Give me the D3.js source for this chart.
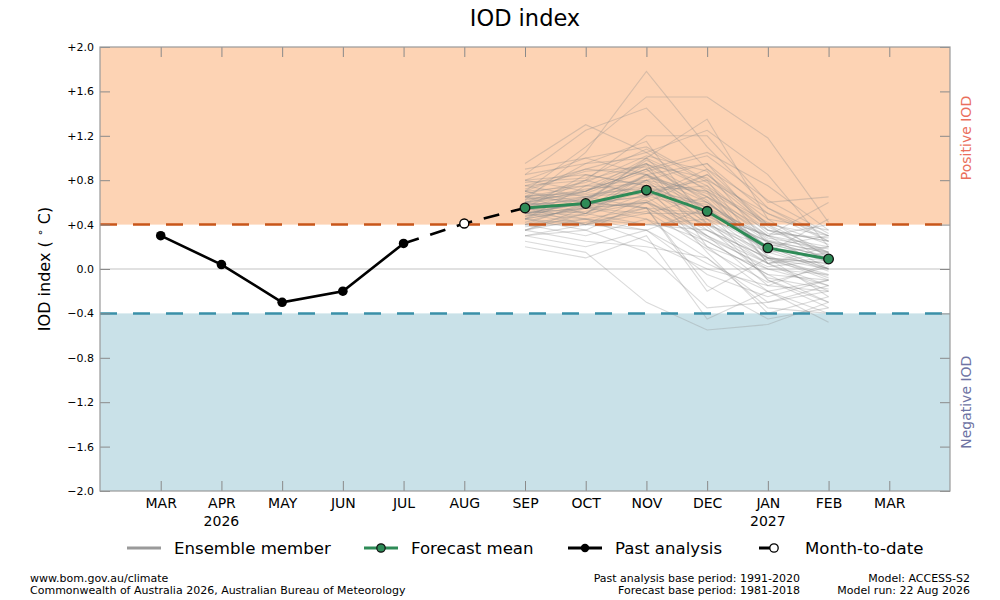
<!DOCTYPE html>
<html>
<head>
<meta charset="utf-8">
<script src="https://cdn.jsdelivr.net/npm/d3@7"></script>
<style>
  body { margin: 0; background: #fff; }
  svg { font-family: "DejaVu Sans", sans-serif; }
</style>
</head>
<body>
<svg id="chart" width="1000" height="600"></svg>
<script>
// month labels along the x axis (index 0 = MAR 2026)
const months = ['MAR', 'APR', 'MAY', 'JUN', 'JUL', 'AUG', 'SEP', 'OCT', 'NOV', 'DEC', 'JAN', 'FEB', 'MAR'];
const yearLabels = [{ idx: 1, text: '2026' }, { idx: 10, text: '2027' }];
const yTicks = [2.0, 1.6, 1.2, 0.8, 0.4, 0.0, -0.4, -0.8, -1.2, -1.6, -2.0];
const threshold = 0.4;

// observed monthly values MAR..JUL
const pastIdx = [0, 1, 2, 3, 4];
const pastVals = [0.30, 0.04, -0.30, -0.20, 0.23];

// month-to-date JUL -> AUG -> SEP
const mtdIdx = [4, 5, 6];
const mtdVals = [0.23, 0.41, 0.55];

// forecast mean SEP..FEB
const fcIdx = [6, 7, 8, 9, 10, 11];
const fcVals = [0.55, 0.59, 0.71, 0.52, 0.19, 0.09];

// ensemble members SEP..FEB
const ensemble = [
  [0.62, 1.05, 1.78, 1.10, 0.55, 0.30],
  [0.70, 1.10, 1.55, 1.55, 1.18, 0.42],
  [0.85, 1.25, 1.45, 0.90, 0.40, 0.15],
  [0.95, 1.30, 1.05, 1.25, 0.85, 0.20],
  [0.55, 0.80, 1.20, 1.20, 0.60, 0.65],
  [0.40, 0.60, 1.00, 1.35, 0.45, 0.10],
  [0.90, 1.00, 1.10, 0.80, 0.10, -0.10],
  [0.75, 0.90, 1.05, 0.70, 0.30, 0.00],
  [0.65, 0.95, 1.15, 0.40, 0.05, -0.20],
  [0.60, 0.70, 0.90, 1.05, 0.75, 0.35],
  [0.50, 0.55, 0.80, 0.95, 0.35, 0.25],
  [0.45, 0.75, 0.95, 0.60, 0.20, 0.10],
  [0.35, 0.50, 0.85, 0.55, -0.10, -0.30],
  [0.30, 0.35, 0.60, 0.20, -0.20, -0.40],
  [0.25, 0.15, -0.30, -0.55, -0.50, -0.30],
  [0.20, 0.10, 0.30, -0.45, -0.20, -0.48],
  [0.55, 0.45, 0.55, -0.20, 0.10, 0.05],
  [0.60, 0.65, 0.70, 0.30, 0.00, -0.15],
  [0.70, 0.75, 0.80, 0.55, 0.15, 0.20],
  [0.80, 0.85, 0.75, 0.45, 0.25, 0.10],
  [0.50, 0.60, 0.65, 0.85, 0.40, 0.30],
  [0.45, 0.40, 0.50, 0.50, 0.30, 0.40],
  [0.40, 0.30, 0.45, 0.25, -0.05, -0.10],
  [0.35, 0.25, 0.20, 0.10, -0.30, -0.20],
  [0.65, 0.70, 1.00, 0.75, 0.05, 0.15],
  [0.75, 0.80, 0.95, 0.65, 0.35, 0.25],
  [0.55, 0.65, 0.75, 0.15, -0.40, -0.25],
  [0.50, 0.55, 0.60, 0.40, 0.20, 0.00],
  [0.60, 0.50, 0.40, 0.35, 0.10, -0.05],
  [0.45, 0.55, 0.70, 0.80, 0.50, 0.30],
  [0.85, 0.95, 1.00, 0.50, 0.10, 0.05],
  [0.70, 0.60, 0.85, 0.60, 0.25, 0.15],
  [0.55, 0.70, 0.90, 0.45, -0.10, -0.35],
  [0.40, 0.45, 0.35, -0.05, -0.25, -0.10],
  [0.30, 0.40, 0.55, 0.30, 0.05, 0.10],
  [0.65, 0.60, 0.55, 0.50, 0.30, 0.20],
  [0.50, 0.45, 0.25, 0.00, -0.15, -0.20],
  [0.60, 0.80, 0.65, 0.90, 0.55, 0.25],
  [0.75, 0.65, 0.80, 0.70, 0.40, 0.05],
  [0.35, 0.55, 0.45, 0.10, -0.35, -0.40],
  [0.55, 0.50, 0.75, 0.55, 0.20, 0.30],
  [0.45, 0.35, 0.15, -0.35, -0.30, -0.15],
  [0.70, 0.90, 0.85, 0.40, 0.15, 0.00],
  [0.60, 0.55, 0.50, 0.65, 0.15, 0.45],
  [0.80, 0.70, 0.95, 0.20, 0.00, -0.05],
  [0.50, 0.60, 0.70, 0.75, 0.35, 0.15],
  [0.40, 0.50, 0.60, 0.35, 0.05, 0.20],
  [0.65, 0.75, 0.70, 0.60, 0.20, 0.00],
  [0.55, 0.40, 0.65, 0.30, -0.15, 0.05],
  [0.35, 0.45, 0.40, 0.45, 0.10, -0.25],
  [0.70, 0.55, 0.60, 0.85, 0.45, 0.35],
  [0.60, 0.70, 0.90, 0.50, 0.25, 0.10],
  [0.45, 0.65, 0.55, 0.25, -0.05, -0.30],
  [0.50, 0.40, 0.35, 0.55, 0.30, 0.15],
  [0.80, 1.00, 0.85, 0.95, 0.50, 0.25],
  [0.30, 0.20, 0.35, 0.05, -0.20, -0.10],
  [0.65, 0.50, 0.80, 0.35, 0.10, 0.00],
  [0.55, 0.85, 0.75, 0.70, 0.05, -0.15],
  [0.50, 0.60, 0.55, -0.15, -0.45, -0.35],
  [0.45, 0.55, 0.85, 0.65, 0.30, 0.60],
  [0.68, 0.78, 1.02, 0.88, 0.22, 0.12],
  [0.58, 0.62, 0.98, 0.72, 0.42, 0.22],
  [0.72, 0.88, 0.92, 0.62, 0.12, -0.08],
  [0.48, 0.52, 0.62, 0.28, 0.02, 0.08],
  [0.62, 0.72, 0.78, 0.48, 0.18, -0.02],
  [0.52, 0.48, 0.68, 0.58, 0.28, 0.18],
  [0.78, 0.82, 1.08, 0.78, 0.32, 0.28],
  [0.42, 0.58, 0.72, 0.38, -0.08, -0.18],
  [0.66, 0.68, 0.88, 1.02, 0.62, 0.32],
  [0.38, 0.42, 0.52, 0.18, -0.12, 0.02],
  [0.57, 0.63, 0.83, 0.68, 0.26, 0.14],
  [0.63, 0.67, 0.73, 0.42, 0.08, -0.06],
  [0.53, 0.58, 0.66, 0.52, 0.24, 0.06],
  [0.47, 0.62, 0.94, 0.82, 0.38, 0.12]
];

const svg = d3.select('#chart');
const m = { left: 100, right: 950, top: 47, bottom: 491 };

const x = d3.scaleLinear().domain([-1, 13]).range([m.left, m.right]);
const y = d3.scaleLinear().domain([-2, 2]).range([m.bottom, m.top]);

const fmt = v => v === 0 ? '0.0' : (v > 0 ? '+' : '\u2212') + Math.abs(v).toFixed(1);

// title
svg.append('text')
  .attr('x', 525).attr('y', 26)
  .attr('text-anchor', 'middle')
  .attr('font-size', 22.5)
  .text('IOD index');

// shaded regions
svg.append('rect')
  .attr('x', m.left).attr('y', y(2))
  .attr('width', m.right - m.left).attr('height', y(threshold) - y(2))
  .attr('fill', '#fdd3b4');
svg.append('rect')
  .attr('x', m.left).attr('y', y(-threshold))
  .attr('width', m.right - m.left).attr('height', y(-2) - y(-threshold))
  .attr('fill', '#c9e1e8');

// zero line
svg.append('line')
  .attr('x1', m.left).attr('x2', m.right)
  .attr('y1', y(0)).attr('y2', y(0))
  .attr('stroke', '#c4c4c4').attr('stroke-width', 1.2);

// ensemble plume
const ensLine = d3.line()
  .x((d, i) => x(fcIdx[i]))
  .y(d => y(d));
svg.append('g')
  .selectAll('path')
  .data(ensemble)
  .join('path')
    .attr('d', ensLine)
    .attr('fill', 'none')
    .attr('stroke', '#8f8f8f')
    .attr('stroke-opacity', 0.33)
    .attr('stroke-width', 1.1);

// threshold dashes
svg.append('line')
  .attr('x1', m.left).attr('x2', m.right)
  .attr('y1', y(threshold)).attr('y2', y(threshold))
  .attr('stroke', '#c8561a').attr('stroke-width', 2.5)
  .attr('stroke-dasharray', '17,16');
svg.append('line')
  .attr('x1', m.left).attr('x2', m.right)
  .attr('y1', y(-threshold)).attr('y2', y(-threshold))
  .attr('stroke', '#3a90a8').attr('stroke-width', 2.5)
  .attr('stroke-dasharray', '17,16');

// axes frame and inward ticks
const tickCol = '#8a8a8a';
const frame = svg.append('g');
const yAxisL = d3.axisLeft(y).tickValues(yTicks).tickSize(-10).tickPadding(6).tickFormat(fmt);
const yAxisR = d3.axisRight(y).tickValues(yTicks).tickSize(-10).tickFormat('');
const xAxisB = d3.axisBottom(x).tickValues(d3.range(13)).tickSize(-10).tickPadding(7).tickFormat(i => months[i]);
const xAxisT = d3.axisTop(x).tickValues(d3.range(13)).tickSize(-10).tickFormat('');

function styleAxis(g, fs) {
  g.select('.domain').remove();
  g.selectAll('.tick line').attr('stroke', tickCol);
  g.selectAll('text').attr('font-size', fs).attr('fill', '#000').attr('font-family', '"DejaVu Sans", sans-serif');
}
frame.append('g').attr('transform', `translate(${m.left},0)`).call(yAxisL).call(g => styleAxis(g, 11));
frame.append('g').attr('transform', `translate(${m.right},0)`).call(yAxisR).call(g => styleAxis(g, 11));
frame.append('g').attr('transform', `translate(0,${m.bottom})`).call(xAxisB).call(g => styleAxis(g, 14));
frame.append('g').attr('transform', `translate(0,${m.top})`).call(xAxisT).call(g => styleAxis(g, 11));

frame.append('rect')
  .attr('x', m.left).attr('y', m.top)
  .attr('width', m.right - m.left).attr('height', m.bottom - m.top)
  .attr('fill', 'none').attr('stroke', '#999').attr('stroke-width', 1.2);

// year labels under the month labels
svg.append('g')
  .selectAll('text')
  .data(yearLabels)
  .join('text')
    .attr('x', d => x(d.idx))
    .attr('y', 526)
    .attr('text-anchor', 'middle')
    .attr('font-size', 14)
    .text(d => d.text);

// y axis title
const yt = svg.append('text')
  .attr('transform', `translate(50,${y(0)}) rotate(-90)`)
  .attr('text-anchor', 'middle')
  .attr('font-size', 16);
yt.append('tspan').text('IOD index ( ');
yt.append('tspan').attr('font-size', 11).attr('dy', -6).text('\u2218');
yt.append('tspan').attr('dy', 6).text(' C)');

// side labels
svg.append('text')
  .attr('transform', `translate(971,${y(1.18)}) rotate(-90)`)
  .attr('text-anchor', 'middle')
  .attr('font-size', 14)
  .attr('fill', '#ea6f5c')
  .text('Positive IOD');
svg.append('text')
  .attr('transform', `translate(971,${y(-1.2)}) rotate(-90)`)
  .attr('text-anchor', 'middle')
  .attr('font-size', 14)
  .attr('fill', '#6e73a3')
  .text('Negative IOD');

// month-to-date dashed segment
const line = d3.line().x(d => x(d[0])).y(d => y(d[1]));
const mtd = d3.zip(mtdIdx, mtdVals);
svg.append('path')
  .attr('d', line(mtd))
  .attr('fill', 'none')
  .attr('stroke', '#000')
  .attr('stroke-width', 2.6)
  .attr('stroke-dasharray', '16,12');

// past analysis
const past = d3.zip(pastIdx, pastVals);
svg.append('path')
  .attr('d', line(past))
  .attr('fill', 'none')
  .attr('stroke', '#000')
  .attr('stroke-width', 2.6);
svg.append('g')
  .selectAll('circle')
  .data(past)
  .join('circle')
    .attr('cx', d => x(d[0])).attr('cy', d => y(d[1]))
    .attr('r', 4.8)
    .attr('fill', '#000');

// month-to-date open marker
svg.append('circle')
  .attr('cx', x(mtdIdx[1])).attr('cy', y(mtdVals[1]))
  .attr('r', 4.5)
  .attr('fill', '#fff').attr('stroke', '#000').attr('stroke-width', 1.3);

// forecast mean
const fc = d3.zip(fcIdx, fcVals);
svg.append('path')
  .attr('d', line(fc))
  .attr('fill', 'none')
  .attr('stroke', '#2e8b57')
  .attr('stroke-width', 3);
svg.append('g')
  .selectAll('circle')
  .data(fc)
  .join('circle')
    .attr('cx', d => x(d[0])).attr('cy', d => y(d[1]))
    .attr('r', 4.8)
    .attr('fill', '#2e8b57').attr('stroke', '#111').attr('stroke-width', 1.3);

// legend
const lg = svg.append('g').attr('font-size', 16.6);
const ly = 548;
lg.append('line').attr('x1', 127).attr('x2', 161).attr('y1', ly).attr('y2', ly)
  .attr('stroke', '#9a9a9a').attr('stroke-width', 3);
lg.append('text').attr('x', 174).attr('y', ly + 6).text('Ensemble member');

lg.append('line').attr('x1', 364).attr('x2', 398).attr('y1', ly).attr('y2', ly)
  .attr('stroke', '#2e8b57').attr('stroke-width', 3);
lg.append('circle').attr('cx', 381).attr('cy', ly).attr('r', 4.2)
  .attr('fill', '#2e8b57').attr('stroke', '#111').attr('stroke-width', 1.2);
lg.append('text').attr('x', 411).attr('y', ly + 6).text('Forecast mean');

lg.append('line').attr('x1', 568).attr('x2', 602).attr('y1', ly).attr('y2', ly)
  .attr('stroke', '#000').attr('stroke-width', 3);
lg.append('circle').attr('cx', 585).attr('cy', ly).attr('r', 4.2).attr('fill', '#000');
lg.append('text').attr('x', 615).attr('y', ly + 6).text('Past analysis');

lg.append('line').attr('x1', 759).attr('x2', 771).attr('y1', ly).attr('y2', ly)
  .attr('stroke', '#000').attr('stroke-width', 3);
lg.append('circle').attr('cx', 774).attr('cy', ly).attr('r', 4.2)
  .attr('fill', '#fff').attr('stroke', '#000').attr('stroke-width', 1.3);
lg.append('text').attr('x', 805).attr('y', ly + 6).text('Month-to-date');

// footer
const ft = svg.append('g').attr('font-size', 11).attr('fill', '#000');
ft.append('text').attr('x', 30).attr('y', 582).text('www.bom.gov.au/climate');
ft.append('text').attr('x', 30).attr('y', 594).text('Commonwealth of Australia 2026, Australian Bureau of Meteorology');
ft.append('text').attr('x', 800).attr('y', 582).attr('text-anchor', 'end').text('Past analysis base period: 1991-2020');
ft.append('text').attr('x', 800).attr('y', 594).attr('text-anchor', 'end').text('Forecast base period: 1981-2018');
ft.append('text').attr('x', 970).attr('y', 582).attr('text-anchor', 'end').text('Model: ACCESS-S2');
ft.append('text').attr('x', 970).attr('y', 594).attr('text-anchor', 'end').text('Model run: 22 Aug 2026');
</script>
</body>
</html>
